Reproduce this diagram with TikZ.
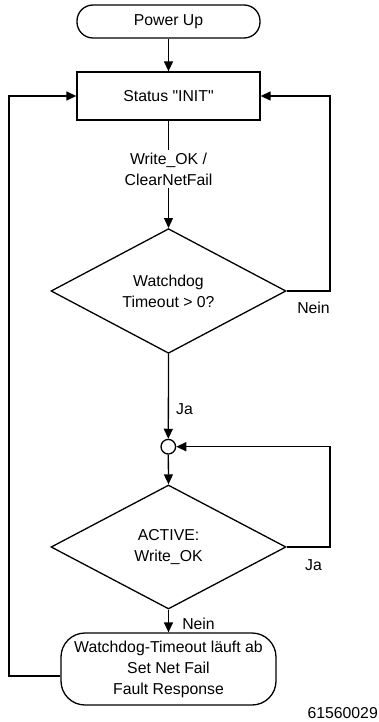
\documentclass[tikz,border=0pt]{standalone}
\usepackage{fontspec}
\setmainfont{Liberation Sans}[Ligatures=TeXOff]
\usetikzlibrary{arrows.meta,shapes.geometric}

\tikzset{
	every node/.style={font=\fontsize{15.8}{21}\selectfont},
	flowline/.style={line width=1.3pt, -{Triangle[length=10pt,width=9pt]}},
	plainline/.style={line width=1.3pt},
	terminal/.style={draw, line width=1.3pt, rounded corners=16pt, minimum width=183pt, minimum height=33pt, inner sep=0pt},
	statebox/.style={draw, line width=1.3pt, minimum width=183pt, minimum height=48pt, inner sep=0pt},
	decision/.style={draw, diamond, line width=1.3pt, minimum width=235pt, minimum height=124pt, inner sep=0pt, align=center},
	endbox/.style={draw, line width=1.3pt, rounded corners=24pt, minimum width=215pt, minimum height=72pt, inner sep=0pt, align=center},
	junction/.style={draw, circle, line width=1.3pt, minimum size=14.6pt, inner sep=0pt}
}

\begin{document}
\begin{tikzpicture}[x=1pt, y=-1pt]
			%%%%% START %%%%%
			
			\useasboundingbox (0, 0) rectangle (378, 722);
			
			\node[terminal] (powerup) at (168.5, 21.5) {Power Up};
			\node[statebox] (init) at (168.5, 96) {Status "INIT"};
			\node[align=center, inner sep=2pt] (wok) at (168.5, 169) {Write\_OK /\\ClearNetFail};
			\node[decision] (wdog) at (168.5, 291) {Watchdog\\Timeout > 0?};
			\node[junction] (merge) at (168.3, 446.7) {};
			\node[decision] (active) at (168.5, 547) {ACTIVE:\\Write\_OK};
			\node[endbox] (fault) at (168.5, 669) {Watchdog-Timeout läuft ab\\Set Net Fail\\Fault Response};
			
			\node (nein1) at (313.5, 307.5) {Nein};
			\node (ja1) at (184.5, 409.5) {Ja};
			\node (ja2) at (313.5, 565.5) {Ja};
			\node (nein2) at (198.5, 624) {Nein};
			\node[anchor=east, inner sep=0pt] (fignum) at (378, 713.5) {61560029};
			
			\coordinate (rtop) at (330, 96);
			\coordinate (rmid) at (330, 446.7);
			\coordinate (ltop) at (9, 96);
			
			\draw[flowline] (powerup) -- (init);
			\draw[plainline] (init) -- (wok);
			\draw[flowline] (wok) -- (wdog);
			\draw[flowline] (wdog.east) -| (rtop) -- (init.east);
			\draw[flowline] (wdog.south) -- (merge.north);
			\draw[flowline] (merge.south) -- (active.north);
			\draw[flowline] (active.east) -| (rmid) -- (merge.east);
			\draw[flowline] (active.south) -- (fault.north);
			\draw[flowline] ([yshift=-7pt]fault.west) -| (ltop) -- (init.west);
			
			%%%%% END %%%%%
\end{tikzpicture}
\end{document}
